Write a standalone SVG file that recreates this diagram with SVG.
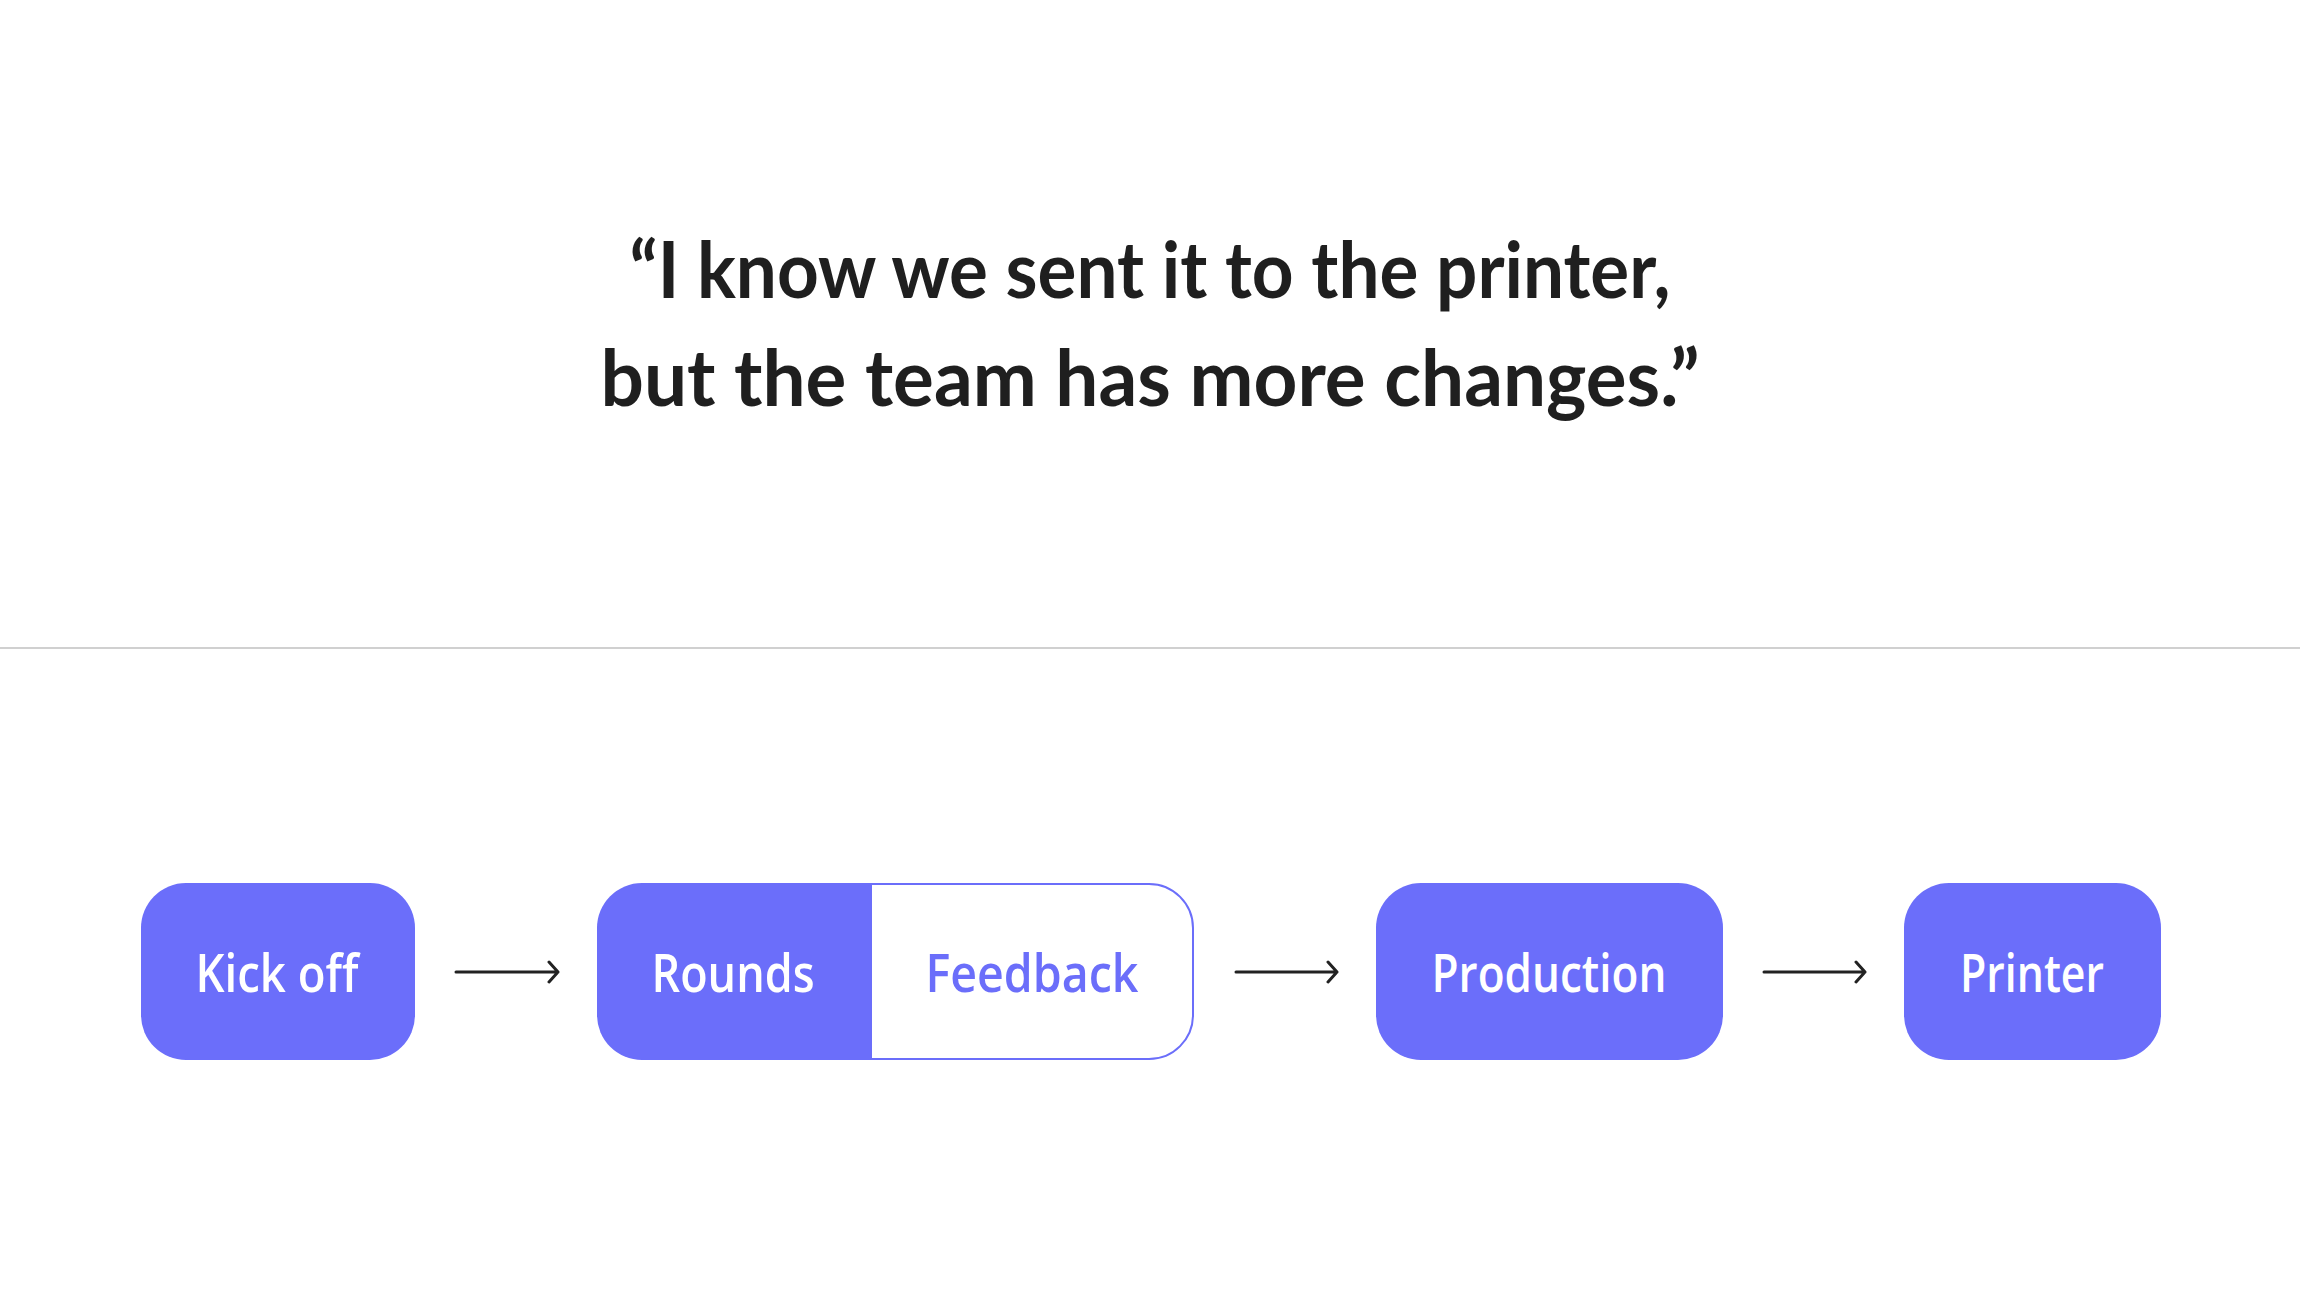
<svg xmlns="http://www.w3.org/2000/svg" width="2300" height="1296" viewBox="0 0 2300 1296">
<style>
.quote{font-family:"Lato","Open Sans",sans-serif;font-weight:700;font-size:78px;fill:#1f1f1f;text-anchor:middle}
.lbl{font-family:"Open Sans","Noto Sans",sans-serif;font-weight:600;font-size:52px;text-anchor:middle}
.w{fill:#ffffff}
.p{fill:#6B6EFA}
.box{fill:#6B6EFA}
.arrow{stroke:#222;stroke-width:3;fill:none;stroke-linecap:round;stroke-linejoin:round}
</style>
<rect width="2300" height="1296" fill="#ffffff"/>
<g id="quote">
<text class="quote" x="1150" y="298" textLength="1041" lengthAdjust="spacingAndGlyphs">“I know we sent it to the printer,</text>
<text class="quote" x="1150" y="406" textLength="1099" lengthAdjust="spacingAndGlyphs">but the team has more changes.”</text>
</g>
<line x1="0" y1="648" x2="2300" y2="648" stroke="#d0d0d0" stroke-width="2"/>
<g id="kickoff">
<rect class="box" x="141" y="883" width="274" height="177" rx="45"/>
<text class="lbl w" x="277" y="992" textLength="163" lengthAdjust="spacingAndGlyphs">Kick off</text>
</g>
<g id="rounds-feedback">
<path d="M871,884 H1149 A44,44 0 0 1 1193,928 V1015 A44,44 0 0 1 1149,1059 H871 Z" fill="#ffffff" stroke="#6B6EFA" stroke-width="2"/>
<path class="box" d="M642,883 H872 V1060 H642 A45,45 0 0 1 597,1015 V928 A45,45 0 0 1 642,883 Z"/>
<text class="lbl w" x="733" y="992" textLength="163" lengthAdjust="spacingAndGlyphs">Rounds</text>
<text class="lbl p" x="1032" y="992" textLength="213" lengthAdjust="spacingAndGlyphs">Feedback</text>
</g>
<g id="production">
<rect class="box" x="1376" y="883" width="347" height="177" rx="45"/>
<text class="lbl w" x="1549" y="992" textLength="235" lengthAdjust="spacingAndGlyphs">Production</text>
</g>
<g id="printer">
<rect class="box" x="1904" y="883" width="257" height="177" rx="45"/>
<text class="lbl w" x="2032" y="992" textLength="144" lengthAdjust="spacingAndGlyphs">Printer</text>
</g>
<g id="connectors">
<path class="arrow" d="M456,972 H558 M549,962 L558,972 L549,982"/>
<path class="arrow" d="M1236,972 H1337 M1328,962 L1337,972 L1328,982"/>
<path class="arrow" d="M1764,972 H1865 M1856,962 L1865,972 L1856,982"/>
</g>
</svg>
